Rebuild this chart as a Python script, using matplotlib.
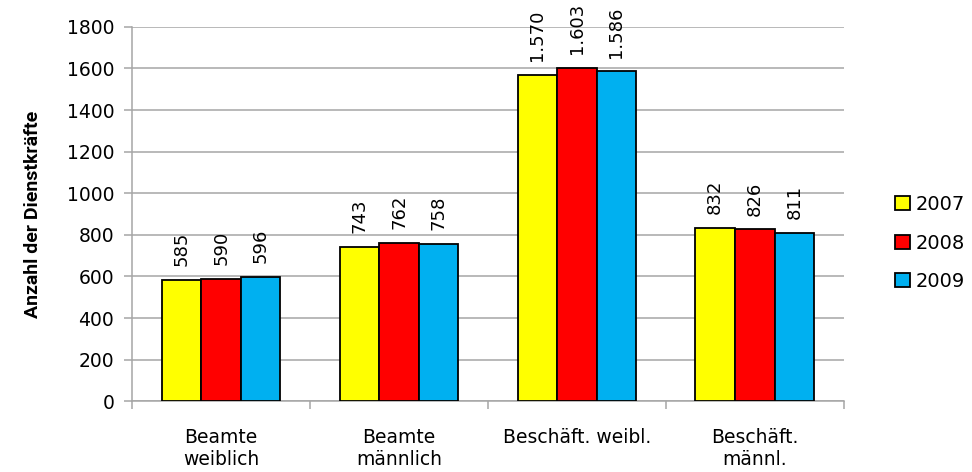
import numpy as np
import matplotlib.pyplot as plt
from matplotlib.patches import Patch

# ---------------------------------------------------------
# DATA
# ---------------------------------------------------------
CATEGORIES = ["Beamte\nweiblich", "Beamte\nmännlich", "Beschäft. weibl.", "Beschäft.\nmännl."]
YEARS = ["2007", "2008", "2009"]
VALUES_2007 = [585, 743, 1570, 832]
VALUES_2008 = [590, 762, 1603, 826]
VALUES_2009 = [596, 758, 1586, 811]
COLORS = ["#FFFF00", "#FF0000", "#00B0F0"]

plt.rcParams['font.family'] = ['DejaVu Sans']


def fmt_de(v):
    # German thousands separator
    return f"{v:,}".replace(",", ".")


fig = plt.figure(figsize=(9.72, 4.72), dpi=100)
ax = fig.add_axes([0.136, 0.150, 0.732, 0.793])

x = np.arange(len(CATEGORIES))
width = 1 / 4.5
series = [VALUES_2007, VALUES_2008, VALUES_2009]

for i, (vals, color) in enumerate(zip(series, COLORS)):
    pos = x + (i - 1) * width
    bars = ax.bar(pos, vals, width, color=color, edgecolor="black", linewidth=1.3, zorder=3)
    for b, v in zip(bars, vals):
        ax.annotate(fmt_de(v), (b.get_x() + b.get_width() / 2, v),
                    xytext=(0, 10), textcoords="offset points",
                    rotation=90, ha="center", va="bottom", fontsize=13)

ax.set_ylim(0, 1800)
ax.set_xlim(-0.5, len(CATEGORIES) - 0.5)
ax.set_yticks(np.arange(0, 1801, 200))
ax.yaxis.grid(True, color="#A6A6A6", linewidth=1.1, zorder=0)
ax.set_axisbelow(True)

ax.set_xticks(x)
ax.set_xticklabels(CATEGORIES, fontsize=13.5, linespacing=1.2)
ax.set_xticks(np.arange(-0.5, len(CATEGORIES)), minor=True)
ax.tick_params(axis="x", which="major", length=0, pad=19)
ax.tick_params(axis="x", which="minor", length=6, color="#A6A6A6", width=1.1)
ax.tick_params(axis="y", length=6, color="#A6A6A6", width=1.1, labelsize=13.5, pad=7)

for side in ["top", "right"]:
    ax.spines[side].set_visible(False)
for side in ["left", "bottom"]:
    ax.spines[side].set_color("#A6A6A6")
    ax.spines[side].set_linewidth(1.1)

ax.set_ylabel("Anzahl der Dienstkräfte", fontsize=14, fontweight="bold",
              family="Roboto", labelpad=18)

handles = [Patch(facecolor=c, edgecolor="black", linewidth=1.3) for c in COLORS]
fig.legend(handles, YEARS, loc="center left", bbox_to_anchor=(0.913, 0.485),
           frameon=False, fontsize=14, handlelength=0.75, handleheight=0.75,
           handletextpad=0.3, labelspacing=1.0, borderaxespad=0)

plt.savefig("out.png", dpi=100)
